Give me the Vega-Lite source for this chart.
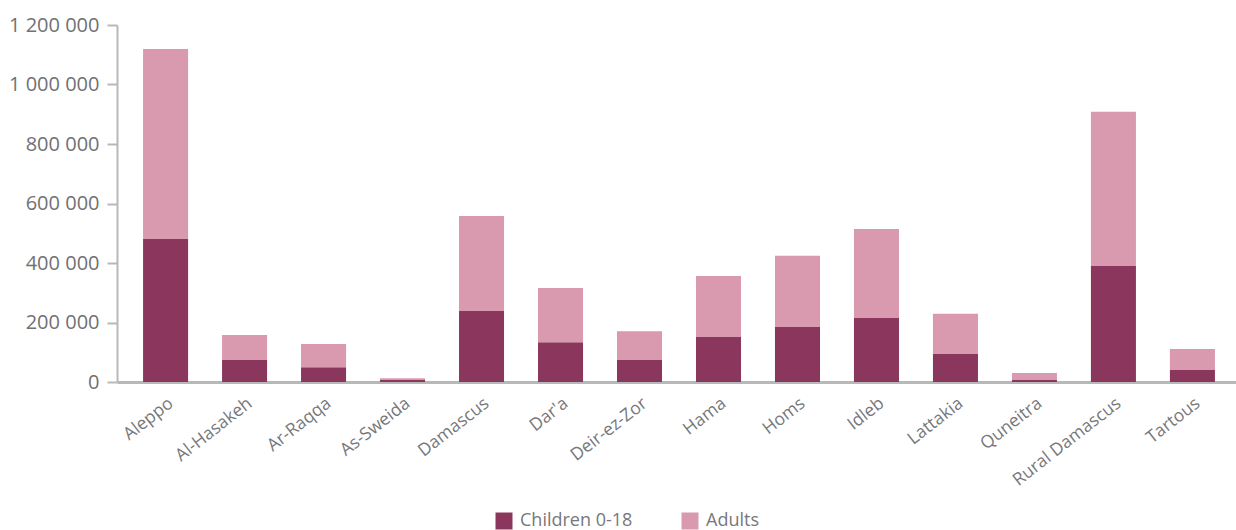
{
  "$schema": "https://vega.github.io/schema/vega-lite/v6.json",
  "width": 1124,
  "height": 357,
  "autosize": {"type": "none"},
  "padding": {"left": 117, "top": 25, "right": 0, "bottom": 148},
  "background": "white",
  "config": {
    "view": {"stroke": null},
    "font": "Open Sans"
  },
  "data": {
    "values": [
      {"governorate": "Aleppo", "group": "Children 0-18", "people": 481000},
      {"governorate": "Aleppo", "group": "Adults", "people": 638000},
      {"governorate": "Al-Hasakeh", "group": "Children 0-18", "people": 74000},
      {"governorate": "Al-Hasakeh", "group": "Adults", "people": 84000},
      {"governorate": "Ar-Raqqa", "group": "Children 0-18", "people": 50000},
      {"governorate": "Ar-Raqqa", "group": "Adults", "people": 78000},
      {"governorate": "As-Sweida", "group": "Children 0-18", "people": 7000},
      {"governorate": "As-Sweida", "group": "Adults", "people": 6000},
      {"governorate": "Damascus", "group": "Children 0-18", "people": 239000},
      {"governorate": "Damascus", "group": "Adults", "people": 319000},
      {"governorate": "Dar'a", "group": "Children 0-18", "people": 134000},
      {"governorate": "Dar'a", "group": "Adults", "people": 182000},
      {"governorate": "Deir-ez-Zor", "group": "Children 0-18", "people": 74000},
      {"governorate": "Deir-ez-Zor", "group": "Adults", "people": 97000},
      {"governorate": "Hama", "group": "Children 0-18", "people": 151000},
      {"governorate": "Hama", "group": "Adults", "people": 205000},
      {"governorate": "Homs", "group": "Children 0-18", "people": 185000},
      {"governorate": "Homs", "group": "Adults", "people": 239000},
      {"governorate": "Idleb", "group": "Children 0-18", "people": 215000},
      {"governorate": "Idleb", "group": "Adults", "people": 299000},
      {"governorate": "Lattakia", "group": "Children 0-18", "people": 94000},
      {"governorate": "Lattakia", "group": "Adults", "people": 135000},
      {"governorate": "Quneitra", "group": "Children 0-18", "people": 7000},
      {"governorate": "Quneitra", "group": "Adults", "people": 23000},
      {"governorate": "Rural Damascus", "group": "Children 0-18", "people": 390000},
      {"governorate": "Rural Damascus", "group": "Adults", "people": 518000},
      {"governorate": "Tartous", "group": "Children 0-18", "people": 40000},
      {"governorate": "Tartous", "group": "Adults", "people": 71000}
    ]
  },
  "mark": {"type": "bar"},
  "encoding": {
    "x": {
      "field": "governorate",
      "type": "nominal",
      "sort": null,
      "title": null,
      "scale": {"paddingInner": 0.43, "paddingOuter": 0.33},
      "axis": {
        "labelAngle": -38,
        "labelFontSize": 17.5,
        "labelColor": "#77787b",
        "labelPadding": 12,
        "ticks": false,
        "domainColor": "#b7b9b9",
        "domainWidth": 3,
        "grid": false
      }
    },
    "y": {
      "field": "people",
      "type": "quantitative",
      "stack": "zero",
      "title": null,
      "scale": {"domain": [0, 1200000], "nice": false},
      "axis": {
        "values": [0, 200000, 400000, 600000, 800000, 1000000, 1200000],
        "labelExpr": "replace(format(datum.value, ','), regexp(',', 'g'), ' ')",
        "labelFontSize": 20,
        "labelColor": "#707174",
        "labelPadding": 8,
        "tickSize": 10,
        "tickColor": "#b7b9b9",
        "tickWidth": 2,
        "domainColor": "#b7b9b9",
        "domainWidth": 2,
        "grid": false
      }
    },
    "color": {
      "field": "group",
      "type": "nominal",
      "scale": {"domain": ["Children 0-18", "Adults"], "range": ["#8a365d", "#d999af"]},
      "legend": {
        "title": null,
        "orient": "none",
        "direction": "horizontal",
        "legendX": 378,
        "legendY": 487,
        "symbolType": "square",
        "symbolSize": 289,
        "symbolStrokeWidth": 0,
        "symbolOpacity": 1,
        "labelFontSize": 18,
        "labelColor": "#77787b",
        "columnPadding": 48,
        "labelOffset": 7
      }
    },
    "order": {"field": "group", "sort": "descending"}
  }
}
